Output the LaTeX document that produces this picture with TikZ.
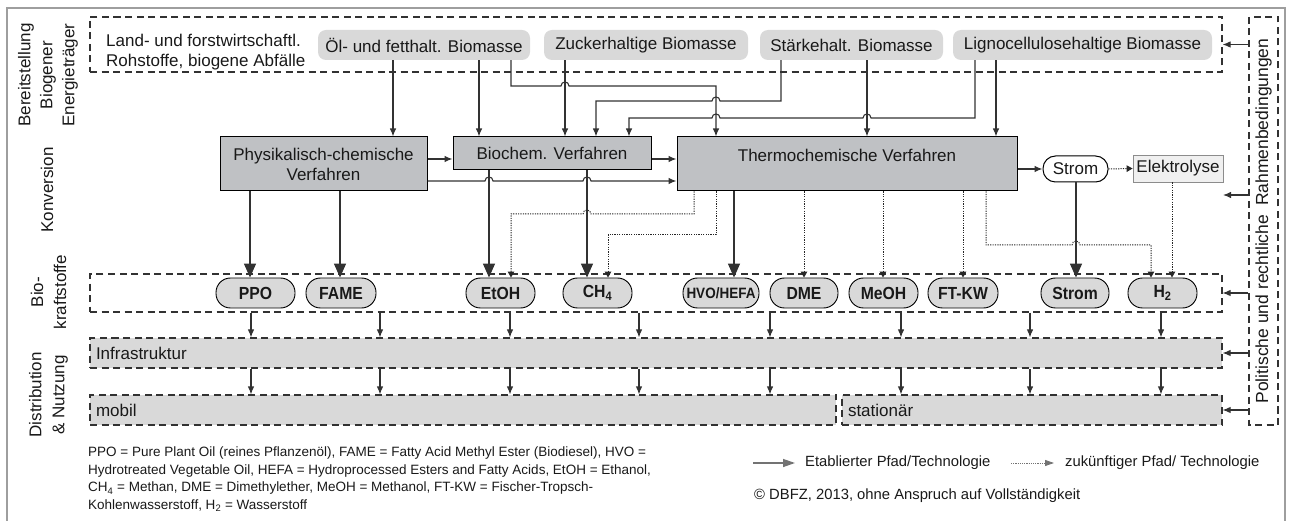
\documentclass[tikz,border=0pt]{standalone}
\usepackage{fontspec}
\setmainfont{Liberation Sans}
\newfontfamily\fuelfam[FakeStretch=0.9]{Liberation Sans}
\usetikzlibrary{arrows.meta,calc}
\definecolor{convgray}{RGB}{191,193,196}
\definecolor{rawgray}{RGB}{217,217,217}
\definecolor{lineg}{RGB}{50,50,50}
\newcommand\mainsz{\fontsize{17}{20}\selectfont}
\newcommand\legsz{\fontsize{13.5}{17.5}\selectfont}
\newcommand\legrsz{\fontsize{14.8}{17}\selectfont}
\newcommand\fuelsz{\fuelfam\bfseries\fontsize{17.5}{20}\selectfont}
\tikzset{
  frame/.style={draw=black!38, line width=1.6pt},
  dbox/.style={draw=lineg, dash pattern=on 7pt off 4.5pt, line width=1.1pt, inner sep=0pt},
  raw/.style={fill=rawgray, rounded corners=8pt, minimum height=30pt, inner sep=0pt},
  conv/.style={draw=black, fill=convgray, line width=1pt, inner sep=0pt, align=center},
  fuel/.style={draw=black, fill=rawgray, line width=0.9pt, rounded corners=14.5pt, minimum height=30pt, inner sep=0pt, font=\fuelsz},
  stromst/.style={draw=black, fill=white, line width=1pt, rounded corners=12.5pt, inner sep=0pt},
  elst/.style={draw=black!45, fill=black!6, line width=0.8pt, inner sep=0pt},
  conn/.style={draw=lineg, line width=1.1pt, -{Latex[length=8pt,width=6.5pt]}},
  big/.style={draw=lineg, line width=1.4pt, -{Triangle[length=14pt,width=12pt]}},
  fut/.style={draw=black!85, line width=1pt, dash pattern=on 1.2pt off 1.2pt, -{Triangle[length=6pt,width=6.5pt]}},
  side/.style={draw=lineg, line width=1.1pt, -{Latex[length=8pt,width=6.5pt]}},
  legsolid/.style={draw=black!55, line width=1.3pt, -{Triangle[length=12pt,width=8pt]}},
  legdot/.style={draw=black!55, line width=0.9pt, dash pattern=on 1.1pt off 1.1pt, -{Triangle[length=9pt,width=6pt]}},
  vlab/.style={rotate=90, align=center, inner sep=0pt}
}
\begin{document}
\begin{tikzpicture}[x=1pt,y=-1pt, font=\mainsz, text=black!90]
\useasboundingbox (0,0) rectangle (1291,521);
\draw[frame] (7,8) rectangle (1285,540);

% left labels
\node[vlab, font=\fontsize{17}{22}\selectfont] (lab1) at (48,75) {Bereitstellung\\Biogener\\Energieträger};
\node[vlab] (lab2) at (47,190) {Konversion};
\node[vlab, font=\fontsize{17}{23}\selectfont] (lab3) at (48.5,292) {Bio-\\kraftstoffe};
\node[vlab, font=\fontsize{17}{23}\selectfont] (lab4) at (48.5,395) {Distribution\\\& Nutzung};

% top row
\node[dbox, minimum width=1132pt, minimum height=55pt] (topbox) at (656,44.5) {};
\node[anchor=west, align=left, inner sep=0pt] (land) at (106,52) {Land- und forstwirtschaftl.\\Rohstoffe, biogene Abfälle};
\node[raw, minimum width=212pt] (oel) at (424,45) {Öl- und fetthalt. Biomasse};
\node[raw, minimum width=204pt] (zucker) at (646,45) {Zuckerhaltige Biomasse};
\node[raw, minimum width=183pt] (staerke) at (851.5,45) {Stärkehalt. Biomasse};
\node[raw, minimum width=259pt] (ligno) at (1082.5,45) {Lignocellulosehaltige Biomasse};

% conversion row
\node[conv, minimum width=207pt, minimum height=54pt] (phys) at (323.5,164) {Physikalisch-chemische\\Verfahren};
\node[conv, minimum width=198pt, minimum height=33pt] (bio) at (552,153.5) {Biochem. Verfahren};
\node[conv, minimum width=340pt, minimum height=54pt] (thermo) at (847,164) {};
\node[inner sep=0pt] (thermotxt) at (847,155) {Thermochemische Verfahren};
\node[stromst, minimum width=65pt, minimum height=26pt] (strom) at (1075.5,169) {Strom};
\node[elst, minimum width=90pt, minimum height=27pt] (elek) at (1178,168.5) {Elektrolyse};

% biofuel row
\node[dbox, minimum width=1132pt, minimum height=38pt] (bfbox) at (656,293) {};
\node[fuel, minimum width=79pt] (ppo) at (255.5,293) {PPO};
\node[fuel, minimum width=70pt] (fame) at (341,293) {FAME};
\node[fuel, minimum width=69pt] (etoh) at (500.5,293) {EtOH};
\node[fuel, minimum width=69pt] (ch4) at (597.5,293) {CH\textsubscript{4}};
\node[fuel, minimum width=76pt, font=\fuelfam\bfseries\fontsize{15}{18}\selectfont] (hvo) at (721,293) {HVO/HEFA};
\node[fuel, minimum width=68pt] (dme) at (804,293) {DME};
\node[fuel, minimum width=69pt] (meoh) at (883.5,293) {MeOH};
\node[fuel, minimum width=70pt] (ftkw) at (963,293) {FT-KW};
\node[fuel, minimum width=68pt] (stromb) at (1075,293) {Strom};
\node[fuel, minimum width=69pt] (h2) at (1162.5,293) {H\textsubscript{2}};

% distribution rows
\node[dbox, fill=rawgray, text width=1120pt, inner xsep=6pt, minimum height=30pt, align=left] (infra) at (656,353) {Infrastruktur};
\node[dbox, fill=rawgray, text width=734pt, inner xsep=6pt, minimum height=30pt, align=left] (mobil) at (463,410) {mobil};
\node[dbox, fill=rawgray, text width=368pt, inner xsep=6pt, minimum height=30pt, align=left] (stat) at (1032,410) {stationär};

% right frame
\node[dbox, rotate=90, minimum width=408pt, minimum height=29pt, font=\fontsize{17.5}{20}\selectfont] (rbox) at (1263.5,221) {Politische und rechtliche\hspace{4pt} Rahmenbedingungen};

% connectors from raw materials
\draw[conn] (393,0 |- oel.south) -- (393,0 |- phys.north);
\draw[conn] (479,0 |- oel.south) -- (479,0 |- bio.north);
\draw[conn] (511,0 |- oel.south) -- (511,86) -- (561,86) .. controls (561,80.7) and (569,80.7) .. (569,86) -- (716,86) -- (716,0 |- thermo.north);
\draw[conn] (565,0 |- zucker.south) -- (565,0 |- bio.north);
\draw[conn] (781,0 |- staerke.south) -- (781,101) -- (720,101) .. controls (720,95.7) and (712,95.7) .. (712,101) -- (596,101) -- (596,0 |- bio.north);
\draw[conn] (867,0 |- staerke.south) -- (867,0 |- thermo.north);
\draw[conn] (975,0 |- ligno.south) -- (975,118) -- (871,118) .. controls (871,112.7) and (863,112.7) .. (863,118) -- (720,118) .. controls (720,112.7) and (712,112.7) .. (712,118) -- (629,118) -- (629,0 |- bio.north);
\draw[conn] (996,0 |- ligno.south) -- (996,0 |- thermo.north);

% conversion connectors
\draw[conn] (phys.east |- 0,159) -- (bio.west |- 0,159);
\draw[conn] (bio.east |- 0,159) -- (thermo.west |- 0,159);
\draw[conn] (phys.east |- 0,181) -- (485,181) .. controls (485,175.7) and (493,175.7) .. (493,181) -- (583,181) .. controls (583,175.7) and (591,175.7) .. (591,181) -- (thermo.west |- 0,181);
\draw[conn] (thermo.east |- strom.west) -- (strom.west);
\draw[fut] (strom.east) -- (elek.west);

% to biofuels
\draw[big] (250,0 |- phys.south) -- (250,0 |- ppo.north);
\draw[big] (340,0 |- phys.south) -- (340,0 |- fame.north);
\draw[big] (489,0 |- bio.south) -- (489,0 |- etoh.north);
\draw[big] (587,0 |- bio.south) -- (587,0 |- ch4.north);
\draw[fut] (694,0 |- thermo.south) -- (694,214) -- (591,214) .. controls (591,208.7) and (583,208.7) .. (583,214) -- (511,214) -- (511,0 |- etoh.north);
\draw[fut] (716,0 |- thermo.south) -- (716,235) -- (608,235) -- (608,0 |- ch4.north);
\draw[big] (734,0 |- thermo.south) -- (734,0 |- hvo.north);
\draw[fut] (804,0 |- thermo.south) -- (804,0 |- dme.north);
\draw[fut] (883,0 |- thermo.south) -- (883,0 |- meoh.north);
\draw[fut] (963,0 |- thermo.south) -- (963,0 |- ftkw.north);
\draw[fut] (986,0 |- thermo.south) -- (986,245) -- (1072,245) .. controls (1072,239.7) and (1080,239.7) .. (1080,245) -- (1151,245) -- (1151,0 |- h2.north);
\draw[big] (1076,0 |- strom.south) -- (1076,0 |- stromb.north);
\draw[fut] (1172,0 |- elek.south) -- (1172,0 |- h2.north);

% distribution arrows
\foreach \x in {251,380,510,639,770,901,1030,1161}
  \draw[conn] (\x,0 |- bfbox.south) -- (\x,0 |- infra.north);
\foreach \x in {251,380,510,639,770}
  \draw[conn] (\x,0 |- infra.south) -- (\x,0 |- mobil.north);
\foreach \x in {901,1030,1161}
  \draw[conn] (\x,0 |- infra.south) -- (\x,0 |- stat.north);

% side arrows
\coordinate (convend) at (1223,195);
\draw[side] (rbox.north |- topbox.east) -- (topbox.east);
\draw[side] (rbox.north |- convend) -- (convend);
\draw[side] (rbox.north |- bfbox.east) -- (bfbox.east);
\draw[side] (rbox.north |- infra.east) -- (infra.east);
\draw[side] (rbox.north |- stat.east) -- (stat.east);

% legend
\node[anchor=north west, align=left, inner sep=0pt, font=\legsz] (leg) at (88,447) {PPO = Pure Plant Oil (reines Pflanzenöl), FAME = Fatty Acid Methyl Ester (Biodiesel), HVO =\\Hydrotreated Vegetable Oil, HEFA = Hydroprocessed Esters and Fatty Acids, EtOH = Ethanol,\\CH\textsubscript{4} = Methan, DME = Dimethylether, MeOH = Methanol, FT-KW = Fischer-Tropsch-\\Kohlenwasserstoff, H\textsubscript{2} = Wasserstoff};
\coordinate (la1) at (753,463);
\coordinate (la2) at (795,463);
\draw[legsolid] (la1) -- (la2);
\node[anchor=west, inner sep=0pt, font=\legrsz] (lt1) at (805,463) {Etablierter Pfad/Technologie};
\coordinate (lb1) at (1011,463);
\coordinate (lb2) at (1054,463);
\draw[legdot] (lb1) -- (lb2);
\node[anchor=west, inner sep=0pt, font=\legrsz] (lt2) at (1065,463) {zukünftiger Pfad/ Technologie};
\node[anchor=west, inner sep=0pt, font=\legrsz] (copy) at (754,496) {© DBFZ, 2013, ohne Anspruch auf Vollständigkeit};
\end{tikzpicture}
\end{document}
